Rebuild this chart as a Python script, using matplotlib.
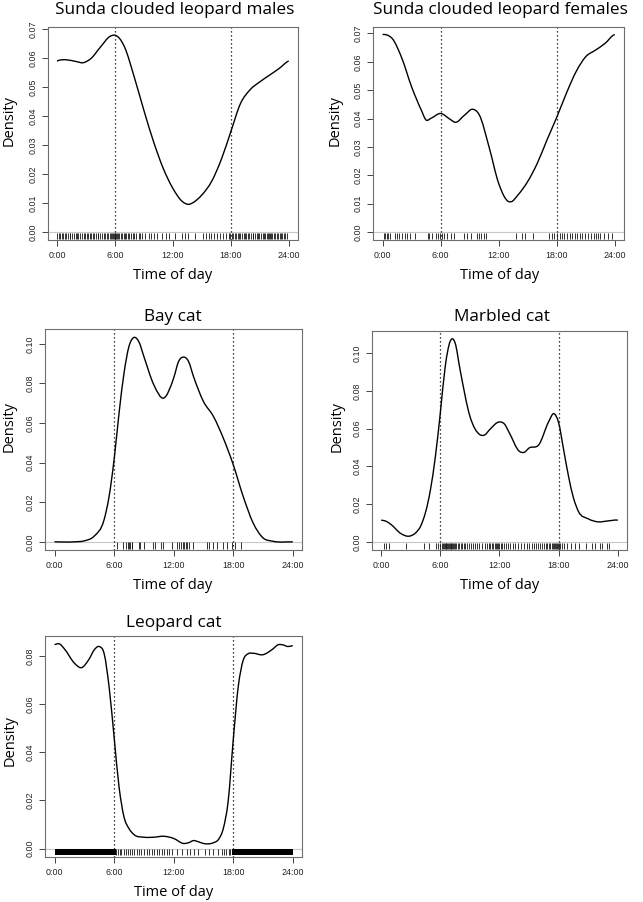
import numpy as np
import matplotlib
matplotlib.use("Agg")
import matplotlib.pyplot as plt
from matplotlib.path import Path
from matplotlib.patches import PathPatch

# ---------------- data ----------------
titles = ["Sunda clouded leopard males", "Sunda clouded leopard females",
          "Bay cat", "Marbled cat", "Leopard cat"]

hour_ticks = [0, 6, 12, 18, 24]
hour_labels = ["0:00", "6:00", "12:00", "18:00", "24:00"]
sun_lines = [6, 18]

males_hours = [0, 0.5, 1, 2, 2.7, 3.5, 4.5, 5.5, 6, 6.5, 7, 8, 9, 10, 11, 12, 13,
               13.7, 14, 15, 16, 17, 18, 19, 20, 21, 22, 23, 24]
males_density = [0.0590, 0.0594, 0.0594, 0.0588, 0.0584, 0.0598, 0.0638, 0.0675,
                 0.0679, 0.0667, 0.0638, 0.0535, 0.0420, 0.0312, 0.0220, 0.0151,
                 0.0105, 0.0096, 0.0100, 0.0128, 0.0174, 0.0249, 0.0346, 0.0443,
                 0.0491, 0.0518, 0.0541, 0.0564, 0.0590]
males_rug = [0.05, 0.2, 0.3, 0.5, 0.65, 0.8, 0.95, 1.15, 1.3, 1.4, 1.6, 1.75, 1.95,
             2.1, 2.2, 2.4, 2.6, 2.75, 2.9, 3.1, 3.2, 3.4, 3.55, 3.75, 3.85, 4.0,
             4.2, 4.3, 4.5, 4.7, 4.85, 5.0, 5.2, 5.3, 5.45, 5.6, 5.75, 5.85, 5.92,
             6.0, 6.05, 6.12, 6.2, 6.3, 6.45, 6.6, 6.7, 6.9, 7.0, 7.2, 7.35, 7.5,
             7.7, 7.85, 8.0, 8.2, 8.45, 8.6, 8.85, 9.1, 9.5, 9.7, 10.0, 10.4, 10.9,
             11.3, 11.6, 12.2, 12.9, 13.3, 13.6, 14.3, 15.1, 15.4, 15.7, 16.0, 16.3,
             16.6, 16.9, 17.2, 17.5, 17.8, 17.95, 18.1, 18.2, 18.4, 18.55, 18.7,
             18.9, 19.0, 19.15, 19.35, 19.45, 19.6, 19.8, 19.9, 20.05, 20.25, 20.35,
             20.5, 20.7, 20.8, 20.95, 21.1, 21.3, 21.4, 21.55, 21.75, 21.85, 21.95,
             22.05, 22.15, 22.3, 22.5, 22.6, 22.75, 22.9, 23.1, 23.2, 23.35, 23.55,
             23.65, 23.8]

females_hours = [0, 0.5, 1, 2, 3, 4, 4.5, 5, 6, 7, 7.5, 8.5, 9.3, 10, 11, 12, 13,
                 13.3, 14, 15, 16, 17, 18, 19, 20, 21, 22, 23, 24]
females_density = [0.0696, 0.0694, 0.0682, 0.0612, 0.0512, 0.0430, 0.0395, 0.0401,
                   0.0418, 0.0397, 0.0387, 0.0413, 0.0433, 0.0413, 0.0301, 0.0172,
                   0.0108, 0.0107, 0.0131, 0.0178, 0.0243, 0.0325, 0.0404, 0.0489,
                   0.0565, 0.0618, 0.0641, 0.0665, 0.0696]
females_rug = [0.1, 0.25, 0.45, 0.6, 0.8, 1.25, 1.5, 1.7, 2.05, 2.3, 2.5, 2.8, 3.3,
               4.65, 4.8, 5.15, 5.5, 5.75, 5.95, 6.1, 6.4, 6.7, 7.05, 7.4, 8.4, 8.75,
               9.1, 9.8, 9.95, 10.2, 10.45, 10.65, 13.75, 14.4, 14.7, 15.5, 17.2,
               17.5, 17.75, 18.05, 18.3, 18.55, 18.8, 19.05, 19.35, 19.6, 19.85, 20.1,
               20.4, 20.6, 20.9, 21.2, 21.5, 21.85, 22.1, 22.25, 22.5, 22.9, 23.35,
               23.7]

baycat_hours = [0, 2, 3, 4, 5, 5.5, 6, 6.5, 7, 7.5, 8, 8.5, 9, 10, 11, 12, 12.5,
                13, 13.5, 14, 15, 16, 17, 18, 19, 20, 21, 22, 24]
baycat_density = [0.0, 0.0, 0.0005, 0.0029, 0.0113, 0.0230, 0.0415, 0.0650, 0.0852,
                  0.0987, 0.1032, 0.1010, 0.0936, 0.0793, 0.0726, 0.0827, 0.0911,
                  0.0933, 0.0911, 0.0835, 0.0709, 0.0634, 0.0524, 0.0390, 0.0230,
                  0.0096, 0.0020, 0.0003, 0.0]
baycat_rug = [6.30, 6.91, 7.18, 7.41, 7.52, 7.65, 7.79, 7.85, 8.53, 8.66, 9.0, 9.88,
              10.15, 10.68, 10.89, 11.8, 12.3, 12.5, 12.7, 12.9, 13.08, 13.25, 13.38,
              13.58, 13.99, 15.34, 15.6, 16.0, 16.41, 17.02, 17.36, 17.86, 18.2,
              18.77]

marbled_hours = [0, 0.5, 1, 2, 2.8, 3.5, 4, 5, 5.5, 6, 6.5, 7, 7.2, 7.5, 8, 9, 10,
                 10.5, 11, 12, 12.5, 13, 14, 14.5, 15, 16, 17, 17.5, 18, 18.5, 19,
                 19.5, 20, 21, 22, 23, 24]
marbled_density = [0.0115, 0.0109, 0.0092, 0.0044, 0.0030, 0.0048, 0.0083, 0.0277,
                   0.0453, 0.0683, 0.0930, 0.1062, 0.1075, 0.1053, 0.0912, 0.0665,
                   0.0568, 0.0566, 0.0594, 0.0635, 0.0624, 0.0577, 0.0480, 0.0474,
                   0.0497, 0.0515, 0.0638, 0.0679, 0.0630, 0.0489, 0.0347, 0.0233,
                   0.0162, 0.0122, 0.0106, 0.0111, 0.0115]
marbled_rug = [0.25, 0.45, 0.8, 2.5, 4.35, 4.85, 5.55, 5.8, 6.0, 6.15, 6.25, 6.35,
               6.45, 6.55, 6.62, 6.7, 6.8, 6.88, 6.95, 7.05, 7.12, 7.2, 7.3, 7.4, 7.5,
               7.6, 7.75, 7.9, 8.05, 8.2, 8.4, 8.55, 8.7, 8.9, 9.1, 9.35, 9.5, 9.7,
               9.95, 10.2, 10.5, 10.7, 10.9, 11.05, 11.2, 11.35, 11.5, 11.6, 11.75,
               11.85, 12.0, 12.15, 12.3, 12.5, 12.7, 12.9, 13.1, 13.35, 13.6, 13.9,
               14.2, 14.5, 14.8, 15.0, 15.3, 15.5, 15.75, 15.9, 16.1, 16.3, 16.5,
               16.7, 16.85, 17.0, 17.15, 17.3, 17.4, 17.5, 17.6, 17.7, 17.8, 17.9,
               18.0, 18.15, 18.3, 18.5, 18.8, 19.3, 19.7, 20.1, 20.8, 21.4, 21.7,
               22.2, 22.4, 22.9, 23.1]

leopard_hours = [0, 0.5, 1, 2, 2.7, 3.5, 4, 4.5, 5, 5.5, 6, 6.5, 7, 7.5, 8, 9, 10,
                 11, 12, 13, 13.5, 14, 14.5, 15, 16, 16.5, 17, 17.5, 18, 18.5, 19,
                 19.5, 20, 21, 22, 22.5, 23, 23.5, 24]
leopard_density = [0.0848, 0.0851, 0.0830, 0.0771, 0.0752, 0.0789, 0.0826, 0.0840,
                   0.0810, 0.0671, 0.0464, 0.0256, 0.0131, 0.0083, 0.0058, 0.0047,
                   0.0047, 0.0051, 0.0042, 0.0021, 0.0024, 0.0033, 0.0028, 0.0021,
                   0.0024, 0.0037, 0.0083, 0.0200, 0.0450, 0.0671, 0.0782, 0.0810,
                   0.0812, 0.0806, 0.0830, 0.0847, 0.0847, 0.0840, 0.0844]
leopard_rug = [6.24, 6.4, 6.57, 6.74, 6.98, 7.18, 7.41, 7.58, 7.79, 7.99, 8.26, 8.53,
               8.76, 9.0, 9.27, 9.54, 9.77, 10.01, 10.28, 10.55, 10.79, 11.05, 11.29,
               11.56, 11.8, 12.3, 12.81, 13.31, 13.65, 14.05, 14.49, 15.17, 15.6,
               16.0, 16.51, 16.85, 17.09, 17.29, 17.53, 17.7]
# spans where the rug ticks merge into a solid band
leopard_rug_blocks = [(0.0, 6.15), (17.85, 24.0)]

density_hours = [males_hours, females_hours, baycat_hours, marbled_hours, leopard_hours]
density_values = [males_density, females_density, baycat_density, marbled_density,
                  leopard_density]
rug_times = [males_rug, females_rug, baycat_rug, marbled_rug, leopard_rug]
rug_blocks = [[], [], [], [], leopard_rug_blocks]
y_ticks = [np.arange(0, 0.0701, 0.01), np.arange(0, 0.0701, 0.01),
           np.arange(0, 0.101, 0.02), np.arange(0, 0.101, 0.02),
           np.arange(0, 0.081, 0.02)]

# ---------------- layout (pixels in a 643x902 canvas) ----------------
W, H = 643, 902
frames = [(47.7, 27.3, 298.0, 240.0), (373.3, 26.7, 624.0, 240.0),
          (45.0, 329.3, 302.3, 550.0), (371.7, 330.7, 627.3, 550.0),
          (45.0, 635.7, 302.3, 856.7)]
title_pos = [(175, 13.5), (500, 14), (172.5, 320.7), (502, 320.7), (173.7, 626.7)]
xlabel_pos = [(172.5, 279), (500, 279), (173, 589), (500, 589), (174, 896)]
ylabel_pos = [(9.5, 121), (335, 121), (9.2, 426), (336.7, 426), (9.7, 740)]

TITLE_FONT = ["Open Sans", "DejaVu Sans"]
TICK_FONT = ["Liberation Sans", "DejaVu Sans"]


def smooth_path(x, y):
    x = np.asarray(x, float)
    y = np.asarray(y, float)
    n = len(x)
    h = np.diff(x)
    d = np.diff(y) / h
    m = np.empty(n)
    for i in range(1, n - 1):
        m[i] = (d[i - 1] * h[i] + d[i] * h[i - 1]) / (h[i - 1] + h[i])
    # circular data: same slope at both ends
    m0 = (d[-1] * h[0] + d[0] * h[-1]) / (h[-1] + h[0])
    m[0] = m0
    m[-1] = m0
    verts = [(x[0], y[0])]
    codes = [Path.MOVETO]
    for i in range(n - 1):
        verts += [(x[i] + h[i] / 3, y[i] + m[i] * h[i] / 3),
                  (x[i + 1] - h[i] / 3, y[i + 1] - m[i + 1] * h[i] / 3),
                  (x[i + 1], y[i + 1])]
        codes += [Path.CURVE4] * 3
    return Path(verts, codes)


fig = plt.figure(figsize=(W / 100, H / 100), dpi=100)
fig.patch.set_facecolor("white")

for k in range(5):
    x0, y0, x1, y1 = frames[k]
    ax = fig.add_axes([x0 / W, 1 - y1 / H, (x1 - x0) / W, (y1 - y0) / H])
    hrs = density_hours[k]
    dens = density_values[k]
    ymax = max(dens)
    ax.set_xlim(-0.96, 24.96)
    ax.set_ylim(-0.04 * ymax, 1.04 * ymax)

    # zero line
    ax.axhline(0, color="#c8c8c8", lw=0.8, zorder=1)
    # sunrise / sunset
    for s in sun_lines:
        ax.axvline(s, color="black", lw=0.9, ls=(0, (1, 2.2)), zorder=2)
    # density curve
    ax.add_patch(PathPatch(smooth_path(hrs, dens), facecolor="none",
                           edgecolor="black", lw=1.0, zorder=3))
    # rug
    ax.vlines(rug_times[k], 0.006, 0.034, transform=ax.get_xaxis_transform(),
              color="#111111", lw=0.6, zorder=2)
    for (a, b) in rug_blocks[k]:
        ax.axvspan(a, b, ymin=0.006, ymax=0.034, color="black", lw=0, zorder=2)

    # axes styling
    for sp in ax.spines.values():
        sp.set_color("#6e6e6e")
        sp.set_linewidth(0.8)
    ax.set_xticks(hour_ticks)
    ax.set_xticklabels(hour_labels)
    ax.set_yticks(y_ticks[k])
    ax.set_yticklabels(["%.2f" % v for v in y_ticks[k]], rotation=90, va="center")
    ax.tick_params(axis="both", direction="out", length=4.2, width=0.7,
                   color="#444444", labelsize=6.4, labelcolor="#222222")
    ax.tick_params(axis="x", pad=4.0)
    ax.tick_params(axis="y", pad=3.2)
    for lab in ax.get_xticklabels() + ax.get_yticklabels():
        lab.set_family(TICK_FONT)

    tx, ty = title_pos[k]
    fig.text(tx / W, 1 - ty / H, titles[k], ha="center", va="baseline",
             fontsize=12.4, family=TITLE_FONT, color="black")
    lx, ly = xlabel_pos[k]
    fig.text(lx / W, 1 - ly / H, "Time of day", ha="center", va="baseline",
             fontsize=10.5, family=TITLE_FONT, color="black")
    px, py = ylabel_pos[k]
    fig.text(px / W, 1 - py / H, "Density", ha="center", va="center", rotation=90,
             fontsize=10.5, family=TITLE_FONT, color="black")

fig.savefig("out.png", dpi=100, facecolor="white")
